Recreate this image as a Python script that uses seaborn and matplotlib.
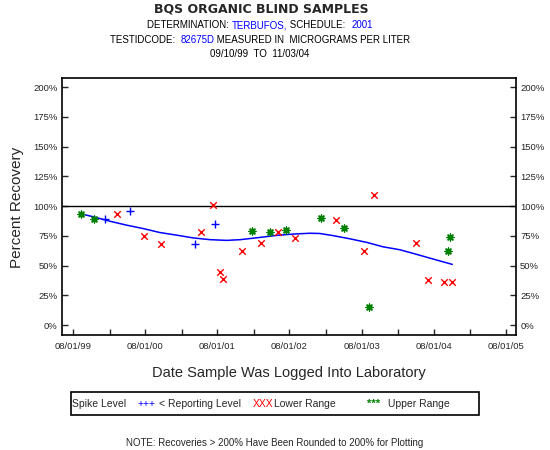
import pandas as pd
import numpy as np
import matplotlib
matplotlib.use("Agg")
import matplotlib.pyplot as plt
import matplotlib.dates as mdates
from matplotlib.patches import Rectangle
from matplotlib.offsetbox import TextArea, HPacker, AnchoredOffsetbox
from matplotlib.ticker import FuncFormatter
import seaborn as sns

# ---- data ----
below_rl_dates = ["2000-01-09", "2000-05-14", "2001-04-09", "2001-07-19"]
below_rl_pct = [89, 96, 68, 85]

lower_dates = ["2000-03-09", "2000-07-24", "2000-10-18", "2001-05-09", "2001-07-08",
               "2001-08-14", "2001-08-27", "2001-12-03", "2002-03-10", "2002-06-04",
               "2002-08-29", "2003-03-25", "2003-08-12", "2003-10-04", "2004-05-04",
               "2004-07-03", "2004-09-22", "2004-11-02"]
lower_pct = [93, 75, 68, 78, 101, 45, 39, 62, 69, 78, 73, 88, 62, 109, 69, 38, 36, 36]

upper_dates = ["1999-09-10", "1999-11-12", "2002-01-23", "2002-04-23", "2002-07-14",
               "2003-01-06", "2003-05-04", "2003-09-08", "2004-10-13", "2004-10-23"]
upper_pct = [93, 89, 79, 78, 80, 90, 82, 15, 62, 74]

smooth_dates = ["1999-09-10", "1999-11-12", "2000-02-03", "2000-04-28", "2000-07-19",
                "2000-10-13", "2001-01-06", "2001-03-30", "2001-06-24", "2001-09-17",
                "2001-11-24", "2002-03-05", "2002-05-28", "2002-08-19", "2002-11-13",
                "2003-01-01", "2003-03-10", "2003-06-04", "2003-08-28", "2003-11-18",
                "2004-02-12", "2004-05-07", "2004-07-29", "2004-11-03"]
smooth_pct = [93.5, 91.0, 87.3, 84.0, 81.2, 77.8, 75.6, 73.3, 71.8, 71.2,
              71.8, 73.7, 75.4, 76.5, 77.2, 77.0, 75.2, 72.5, 69.5, 65.8,
              63.3, 59.4, 55.5, 51.0]

year_ticks = ["1999-08-01", "2000-08-01", "2001-08-01", "2002-08-01",
              "2003-08-01", "2004-08-01", "2005-08-01"]
pct_ticks = [0, 25, 50, 75, 100, 125, 150, 175, 200]

sns.set_style("white")
plt.rcParams["font.family"] = ["Liberation Sans", "DejaVu Sans"]

W, H = 550, 450
fig = plt.figure(figsize=(W / 100, H / 100), dpi=100)
fx = lambda px: px / W
fy = lambda py: 1 - py / H
ax = fig.add_axes([fx(62), fy(335), fx(516) - fx(62), fy(78) - fy(335)])

df_b = pd.DataFrame({"date": pd.to_datetime(below_rl_dates), "pct": below_rl_pct})
df_l = pd.DataFrame({"date": pd.to_datetime(lower_dates), "pct": lower_pct})
df_u = pd.DataFrame({"date": pd.to_datetime(upper_dates), "pct": upper_pct})
df_s = pd.DataFrame({"date": pd.to_datetime(smooth_dates), "pct": smooth_pct})

ax.axhline(100, color="black", lw=1.0, zorder=1)
sns.lineplot(data=df_s, x="date", y="pct", color="#0000ff", lw=1.1, ax=ax, zorder=2)
sns.scatterplot(data=df_b, x="date", y="pct", marker="+", color="#0000ff",
                s=32, linewidth=1.0, ax=ax, zorder=3)
sns.scatterplot(data=df_l, x="date", y="pct", marker="x", color="#ff0000",
                s=22, linewidth=1.0, ax=ax, zorder=3)
sns.scatterplot(data=df_u, x="date", y="pct", marker=(8, 2, 0), color="#008000",
                s=24, linewidth=1.0, ax=ax, zorder=3)

ax.set_xlim(pd.Timestamp("1999-06-05"), pd.Timestamp("2005-09-22"))
ax.set_ylim(-8.4, 207.8)
ax.set_xticks(pd.to_datetime(year_ticks))
ax.xaxis.set_major_formatter(mdates.DateFormatter("%m/%d/%y"))
ax.xaxis.set_minor_locator(mdates.MonthLocator(bymonth=2, bymonthday=1))
ax.set_yticks(pct_ticks)
ax.yaxis.set_major_formatter(FuncFormatter(lambda v, p: f"{v:.0f}%"))

ax.tick_params(axis="x", which="both", direction="in", length=4, width=1,
               bottom=True, top=False, labelsize=6.8, pad=5)
ax.tick_params(axis="y", which="both", direction="in", length=4, width=1,
               left=True, right=True, labelleft=True, labelright=True,
               labelsize=6.8, pad=3)
for sp in ax.spines.values():
    sp.set_color("black")
    sp.set_linewidth(1.2)

ax.set_xlabel("")
ax.set_ylabel("")
fig.text(fx(17), fy(207), "Percent Recovery", rotation=90, fontsize=11,
         ha="center", va="center")
fig.text(fx(289), fy(373), "Date Sample Was Logged Into Laboratory", fontsize=10.5,
         ha="center", va="center")

# ---- title block ----
fig.text(fx(261), fy(9.5), "BQS ORGANIC BLIND SAMPLES", fontsize=9, fontweight="bold",
         family="DejaVu Sans", ha="center", va="center")


def colored_line(y_px, parts, size=7):
    boxes = [TextArea(s, textprops=dict(color=c, fontsize=size)) for s, c in parts]
    pack = HPacker(children=boxes, align="baseline", pad=0, sep=0)
    anchored = AnchoredOffsetbox(loc="center", child=pack, frameon=False, pad=0,
                                 bbox_to_anchor=(fx(260), fy(y_px)),
                                 bbox_transform=fig.transFigure, borderpad=0)
    fig.add_artist(anchored)


colored_line(25, [("DETERMINATION: ", "black"), ("TERBUFOS,", "#0000ff"),
                  (" SCHEDULE:  ", "black"), ("2001", "#0000ff")])
colored_line(40, [("TESTIDCODE:  ", "black"), ("82675D", "#0000ff"),
                  (" MEASURED IN  MICROGRAMS PER LITER", "black")])
colored_line(54, [("09/10/99  TO  11/03/04", "black")])

# ---- legend box ----
fig.add_artist(Rectangle((fx(70.7), fy(415)), fx(479) - fx(70.7), fy(391.7) - fy(415),
                         transform=fig.transFigure, fill=False, ec="black", lw=1.2))
ly = fy(404)
fig.text(fx(72.5), ly, "Spike Level", fontsize=7.5, va="center")
fig.text(fx(138), ly, "+++", fontsize=7.5, color="#0000ff", va="center")
fig.text(fx(159), ly, "< Reporting Level", fontsize=7.5, va="center")
fig.text(fx(253), ly, "XXX", fontsize=7.5, color="#ff0000", va="center")
fig.text(fx(273.5), ly, "Lower Range", fontsize=7.5, va="center")
fig.text(fx(367), ly, "***", fontsize=8, color="#008000", va="center", fontweight="bold")
fig.text(fx(388), ly, "Upper Range", fontsize=7.5, va="center")

fig.text(fx(275), fy(443), "NOTE: Recoveries > 200% Have Been Rounded to 200% for Plotting",
         fontsize=7, ha="center", va="center")

fig.savefig("out.png", dpi=100)
